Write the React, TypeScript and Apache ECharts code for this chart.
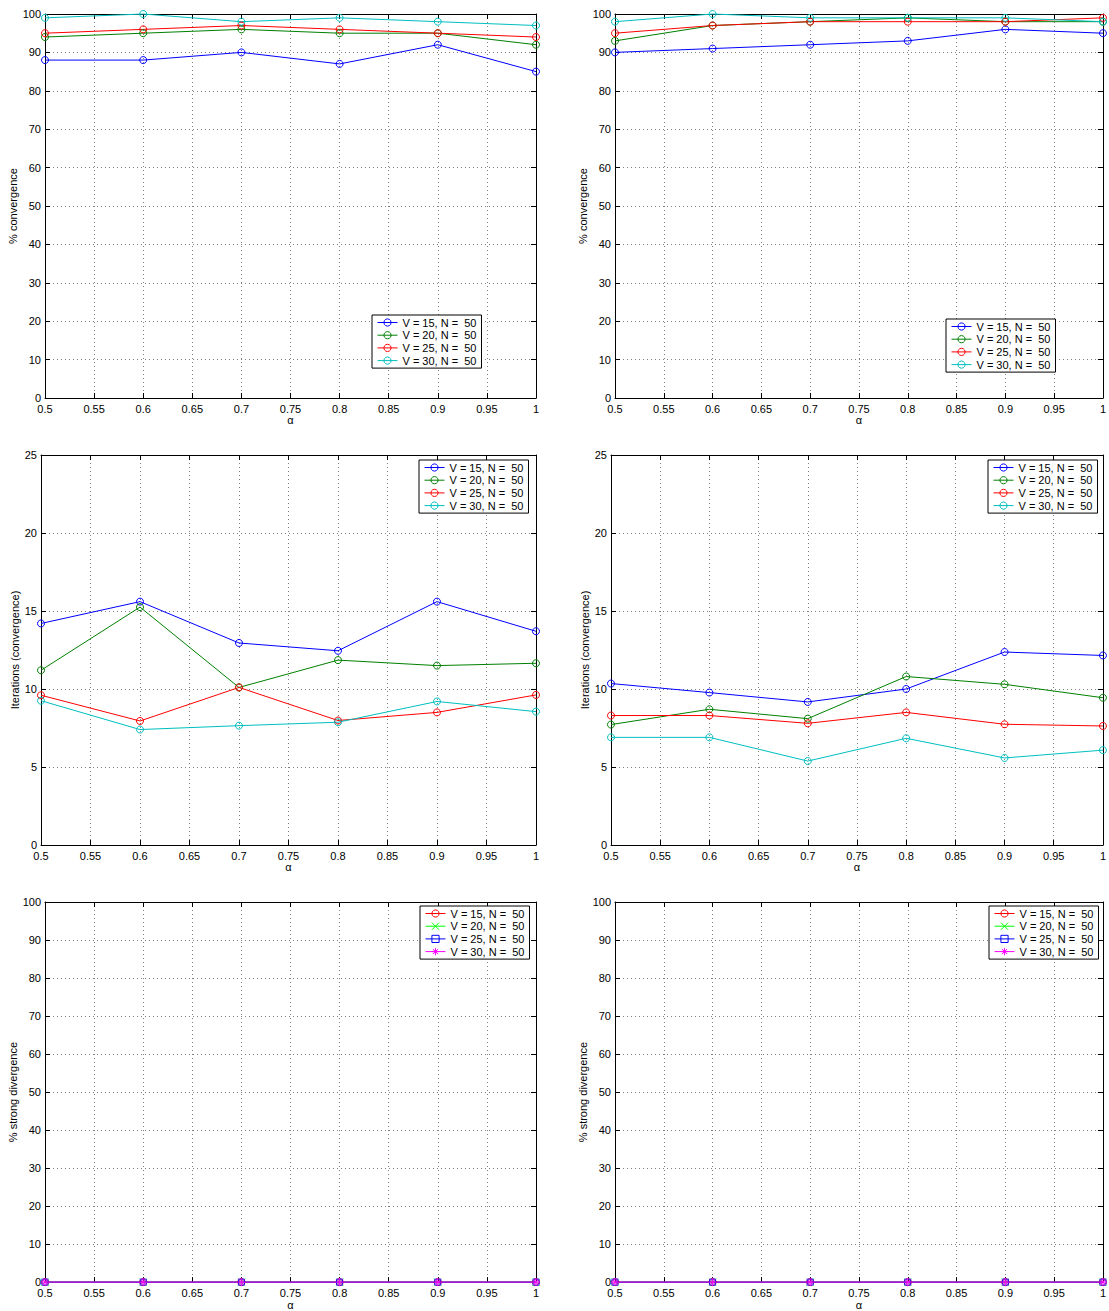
import React, { useEffect, useRef } from "react";
import * as echarts from "echarts";

// ---------- data ----------
const alphas = [0.5, 0.6, 0.7, 0.8, 0.9, 1.0];
const seriesNames = ["V = 15, N =  50", "V = 20, N =  50", "V = 25, N =  50", "V = 30, N =  50"];

// % convergence, left
const convLeftV15 = [88, 88, 90, 87, 92, 85];
const convLeftV20 = [94, 95, 96, 95, 95, 92];
const convLeftV25 = [95, 96, 97, 96, 95, 94];
const convLeftV30 = [99, 100, 98, 99, 98, 97];

// % convergence, right
const convRightV15 = [90, 91, 92, 93, 96, 95];
const convRightV20 = [93, 97, 98, 99, 98, 98];
const convRightV25 = [95, 97, 98, 98, 98, 99];
const convRightV30 = [98, 100, 99, 99, 99, 98];

// iterations (convergence), left
const iterLeftV15 = [14.2, 15.6, 12.95, 12.45, 15.6, 13.7];
const iterLeftV20 = [11.2, 15.25, 10.1, 11.85, 11.5, 11.65];
const iterLeftV25 = [9.6, 7.95, 10.1, 7.98, 8.5, 9.62];
const iterLeftV30 = [9.25, 7.4, 7.65, 7.87, 9.2, 8.55];

// iterations (convergence), right
const iterRightV15 = [10.35, 9.77, 9.17, 10.0, 12.37, 12.15];
const iterRightV20 = [7.72, 8.7, 8.1, 10.8, 10.3, 9.44];
const iterRightV25 = [8.3, 8.3, 7.8, 8.5, 7.74, 7.63];
const iterRightV30 = [6.9, 6.9, 5.38, 6.84, 5.58, 6.08];

// % strong divergence
const divLeftV15 = [0, 0, 0, 0, 0, 0];
const divLeftV20 = [0, 0, 0, 0, 0, 0];
const divLeftV25 = [0, 0, 0, 0, 0, 0];
const divLeftV30 = [0, 0, 0, 0, 0, 0];
const divRightV15 = [0, 0, 0, 0, 0, 0];
const divRightV20 = [0, 0, 0, 0, 0, 0];
const divRightV25 = [0, 0, 0, 0, 0, 0];
const divRightV30 = [0, 0, 0, 0, 0, 0];

// ---------- styles ----------
const FONT = "'Liberation Sans', Arial, Helvetica, sans-serif";
const X_PATH = "path://M0,0L10,10M10,0L0,10";
const STAR_PATH = "path://M5,0L5,10M0,5L10,5M1.5,1.5L8.5,8.5M8.5,1.5L1.5,8.5";

const circleStyles = [
  { color: "#0000ff", symbol: "circle", size: 7 },
  { color: "#008000", symbol: "circle", size: 7 },
  { color: "#ff0000", symbol: "circle", size: 7 },
  { color: "#00bfbf", symbol: "circle", size: 7 },
];
const mixedStyles = [
  { color: "#ff0000", symbol: "circle", size: 7 },
  { color: "#00ff00", symbol: X_PATH, size: 7 },
  { color: "#0000ff", symbol: "rect", size: 6 },
  { color: "#ff00ff", symbol: STAR_PATH, size: 8 },
];
const mixedNames = seriesNames.map((n) => n + " ");

const panels = [
  {
    grid: { left: 45, top: 14, width: 491, height: 384 },
    yMax: 100, yStep: 10, yName: "% convergence", yNameGap: 24, xNameGap: 14,
    legend: { left: 372, top: 315 },
    values: [convLeftV15, convLeftV20, convLeftV25, convLeftV30],
    styles: circleStyles, names: seriesNames,
  },
  {
    grid: { left: 615, top: 14, width: 490, height: 384 },
    yMax: 100, yStep: 10, yName: "% convergence", yNameGap: 24, xNameGap: 14,
    legend: { left: 946, top: 319 },
    values: [convRightV15, convRightV20, convRightV25, convRightV30],
    styles: circleStyles, names: seriesNames,
  },
  {
    grid: { left: 41, top: 455, width: 495, height: 390 },
    yMax: 25, yStep: 5, yName: "Iterations (convergence)", yNameGap: 20, xNameGap: 14,
    legend: { left: 419, top: 460 },
    values: [iterLeftV15, iterLeftV20, iterLeftV25, iterLeftV30],
    styles: circleStyles, names: seriesNames,
  },
  {
    grid: { left: 611, top: 455, width: 494, height: 390 },
    yMax: 25, yStep: 5, yName: "Iterations (convergence)", yNameGap: 20, xNameGap: 14,
    legend: { left: 988, top: 460 },
    values: [iterRightV15, iterRightV20, iterRightV25, iterRightV30],
    styles: circleStyles, names: seriesNames,
  },
  {
    grid: { left: 45, top: 902, width: 491, height: 384 },
    yMax: 100, yStep: 10, yName: "% strong divergence", yNameGap: 24, xNameGap: 13,
    legend: { left: 420, top: 906 },
    values: [divLeftV15, divLeftV20, divLeftV25, divLeftV30],
    styles: mixedStyles, names: mixedNames,
  },
  {
    grid: { left: 615, top: 902, width: 490, height: 384 },
    yMax: 100, yStep: 10, yName: "% strong divergence", yNameGap: 24, xNameGap: 13,
    legend: { left: 989, top: 906 },
    values: [divRightV15, divRightV20, divRightV25, divRightV30],
    styles: mixedStyles, names: mixedNames,
  },
];

const fmt = (v: number) => String(Math.round(v * 100) / 100);

function buildOption() {
  const grid: any[] = [];
  const xAxis: any[] = [];
  const yAxis: any[] = [];
  const legend: any[] = [];
  const series: any[] = [];
  const axisLine = { show: true, onZero: false, lineStyle: { color: "#000", width: 1 } };
  const axisTick = { show: true, inside: true, length: 5, lineStyle: { color: "#000", width: 1 } };
  const splitLine = { show: true, lineStyle: { color: "#808080", width: 1, type: [1, 3] } };
  const labelStyle = { color: "#000", fontSize: 11, fontFamily: FONT };

  panels.forEach((p, i) => {
    grid.push({ ...p.grid, containLabel: false });
    xAxis.push({
      type: "value", gridIndex: i, position: "bottom", min: 0.5, max: 1, interval: 0.05,
      name: "α", nameLocation: "middle", nameGap: p.xNameGap,
      nameTextStyle: { ...labelStyle },
      axisLine, axisTick,
      axisLabel: { ...labelStyle, margin: 5, formatter: fmt },
      splitLine,
    });
    xAxis.push({
      type: "value", gridIndex: i, position: "top", min: 0.5, max: 1, interval: 0.05,
      axisLine, axisTick, axisLabel: { show: false }, splitLine: { show: false },
    });
    yAxis.push({
      type: "value", gridIndex: i, position: "left", min: 0, max: p.yMax, interval: p.yStep,
      name: p.yName, nameLocation: "middle", nameRotate: 90, nameGap: p.yNameGap,
      nameTextStyle: { ...labelStyle },
      axisLine, axisTick,
      axisLabel: { ...labelStyle, margin: 4 },
      splitLine,
    });
    yAxis.push({
      type: "value", gridIndex: i, position: "right", min: 0, max: p.yMax, interval: p.yStep,
      axisLine, axisTick, axisLabel: { show: false }, splitLine: { show: false },
    });
    legend.push({
      show: true, orient: "vertical", left: p.legend.left, top: p.legend.top,
      data: p.names,
      itemWidth: 20, itemHeight: 9, itemGap: 0.7,
      padding: [1.5, 5, 1.5, 5],
      borderColor: "#000", borderWidth: 1, borderRadius: 0, backgroundColor: "#fff",
      itemStyle: { borderWidth: 1 },
      lineStyle: { width: 1 },
      textStyle: { ...labelStyle, lineHeight: 12 },
      formatter: (n: string) => n.trim().replace("  ", " \u00a0"),
      selectedMode: false,
    });
    p.values.forEach((vals, j) => {
      const st = p.styles[j];
      series.push({
        type: "line",
        name: p.names[j],
        xAxisIndex: 2 * i,
        yAxisIndex: 2 * i,
        data: alphas.map((a, k) => [a, vals[k]]),
        symbol: st.symbol,
        symbolSize: st.size,
        showSymbol: true,
        clip: false,
        lineStyle: { color: st.color, width: 1 },
        itemStyle: { color: "transparent", borderColor: st.color, borderWidth: 1 },
        emphasis: { disabled: true },
      });
    });
  });

  return {
    animation: false,
    backgroundColor: "#fff",
    textStyle: { fontFamily: FONT },
    grid, xAxis, yAxis, legend, series,
    tooltip: { show: false },
  };
}

export default function App() {
  const ref = useRef<HTMLDivElement>(null);
  useEffect(() => {
    const chart = echarts.init(ref.current!, null, { renderer: "svg" });
    chart.setOption(buildOption() as any);
    return () => chart.dispose();
  }, []);
  return (
    <div
      ref={ref}
      style={{ position: "absolute", left: 0, top: 0, width: 1109, height: 1311, background: "#fff" }}
    />
  );
}
